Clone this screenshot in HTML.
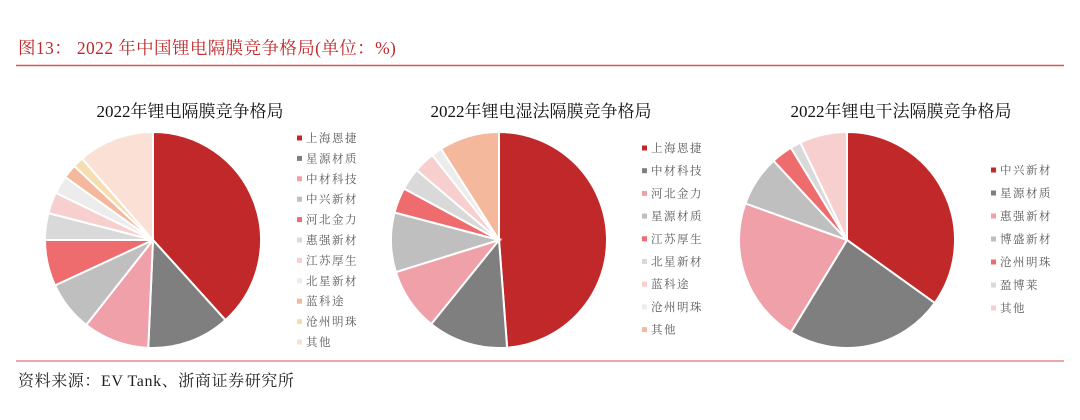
<!DOCTYPE html>
<html><head><meta charset="utf-8">
<style>
body{margin:0;background:#fff;width:1080px;height:420px;overflow:hidden;}
svg{display:block;}
</style></head>
<body>
<svg id="svg" width="1080" height="420" xmlns="http://www.w3.org/2000/svg">
  <text x="18" y="54" font-family="'Liberation Serif','Noto Serif CJK SC',serif" font-size="17.5" letter-spacing="0.4" fill="#c0282a">图13：  2022 年中国锂电隔膜竞争格局(单位：%)</text>
  <line x1="16" y1="65.5" x2="1064" y2="65.5" stroke="#d9545a" stroke-width="1.5"/>
  <line x1="16" y1="361" x2="1064" y2="361" stroke="#e58a8f" stroke-width="1.5"/>
  <text x="18" y="386" font-family="'Liberation Serif','Noto Serif CJK SC',serif" font-size="16" letter-spacing="0.6" fill="#222">资料来源：EV Tank、浙商证券研究所</text>
</svg>
<script>
const c1Labels=['上海恩捷','星源材质','中材科技','中兴新材','河北金力','惠强新材','江苏厚生','北星新材','蓝科途','沧州明珠','其他'];
const c1Values=[38.3,12.4,9.9,7.5,6.9,4.0,3.2,2.7,2.1,1.6,11.4];
const c1Colors=['#c0282a','#7f7f7f','#f0a0a8','#bfbfbf','#ee6b6e','#d9d9d9','#f8cfcf','#ececec','#f4b89c','#f6dcae','#fbe0d6'];
const c2Labels=['上海恩捷','中材科技','河北金力','星源材质','江苏厚生','北星新材','蓝科途','沧州明珠','其他'];
const c2Values=[48.8,12.0,9.4,8.9,3.8,3.3,3.2,1.6,9.0];
const c2Colors=['#c0282a','#7f7f7f','#f0a0a8','#bfbfbf','#ee6b6e','#d9d9d9','#f8cfcf','#ececec','#f4b89c'];
const c3Labels=['中兴新材','星源材质','惠强新材','博盛新材','沧州明珠','盈博莱','其他'];
const c3Values=[34.9,23.8,21.8,7.6,3.2,1.6,7.1];
const c3Colors=['#c0282a','#7f7f7f','#f0a0a8','#bfbfbf','#ee6b6e','#d9d9d9','#f8cfcf'];

const NS='http://www.w3.org/2000/svg';
const svg=document.getElementById('svg');
function mk(tag,attrs){const e=document.createElementNS(NS,tag);for(const k in attrs)e.setAttribute(k,attrs[k]);return e;}
function drawPie(id,title,titleX,cx,cy,r,labels,values,colors,legX,legY0,legStep){
  const g=mk('g',{});
  
  
  svg.appendChild(g);
  const t=mk('text',{x:titleX,y:117,'text-anchor':'middle','font-family':"'Liberation Serif','Noto Serif CJK SC',serif",'font-size':'17',fill:'#111'});
  t.textContent=title;
  
  
  g.appendChild(t);
  const total=values.reduce((a,b)=>a+b,0);
  let acc=0;
  values.forEach((v,i)=>{
    const a0=acc/total*2*Math.PI; acc+=v; const a1=acc/total*2*Math.PI;
    const x0=cx+r*Math.sin(a0),y0=cy-r*Math.cos(a0),x1=cx+r*Math.sin(a1),y1=cy-r*Math.cos(a1);
    const large=(a1-a0)>Math.PI?1:0;
    const p=mk('path',{d:`M${cx},${cy} L${x0},${y0} A${r},${r} 0 ${large} 1 ${x1},${y1} Z`,fill:colors[i],stroke:'#fff','stroke-width':'2'});
    
    
    g.appendChild(p);
    const y=legY0+i*legStep;
    const m=mk('rect',{x:legX,y:y-2.5,width:5,height:5,fill:colors[i]});
    
    
    g.appendChild(m);
    const lt=mk('text',{x:legX+9,y:y+4,'font-family':"'Liberation Serif','Noto Serif CJK SC',serif",'font-size':'11.5','letter-spacing':'1.5',fill:'#595959'});
    lt.textContent=labels[i];
    
    
    g.appendChild(lt);
  });
}
drawPie('pie-total','2022年锂电隔膜竞争格局',190,153,240,108,c1Labels,c1Values,c1Colors,297,138,20.4);
drawPie('pie-wet','2022年锂电湿法隔膜竞争格局',541,499,240,108,c2Labels,c2Values,c2Colors,642,148,22.7);
drawPie('pie-dry','2022年锂电干法隔膜竞争格局',901,847,240,108,c3Labels,c3Values,c3Colors,991,170,23);
</script>
</body></html>
